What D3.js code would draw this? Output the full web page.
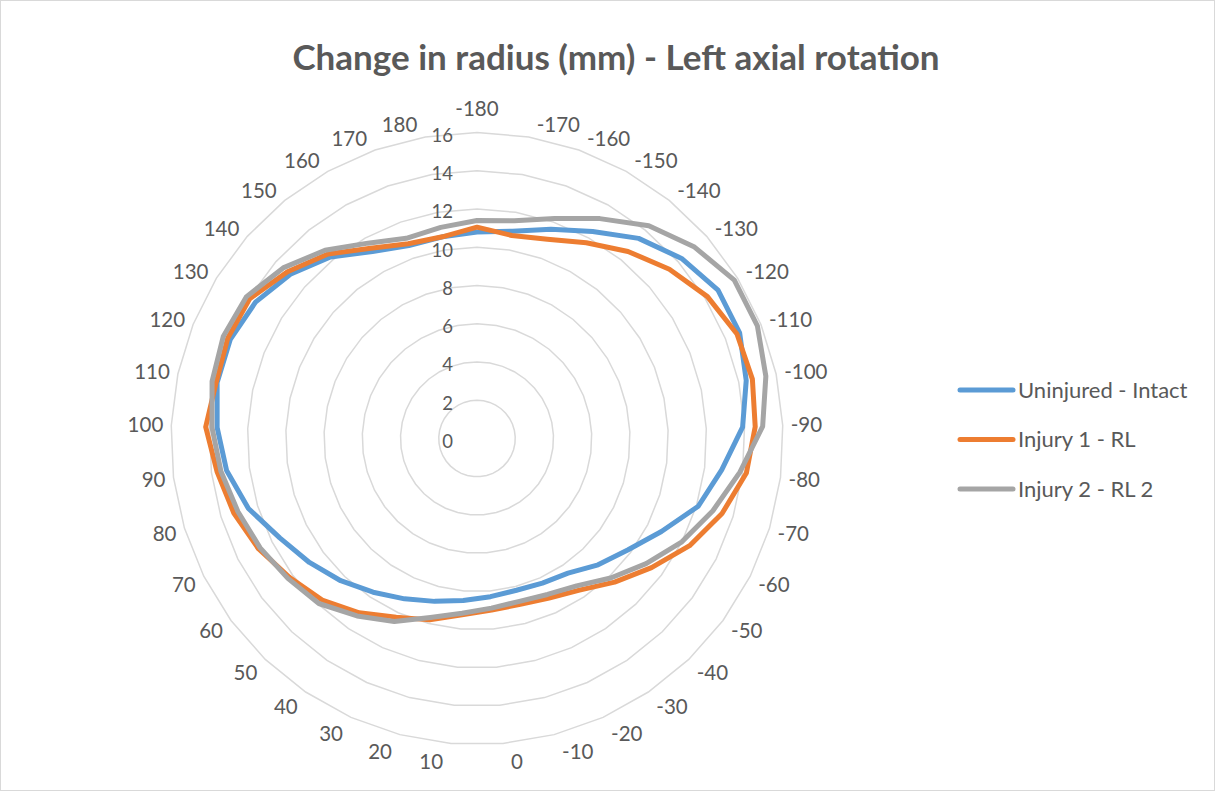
<!DOCTYPE html>
<html>
<head>
<meta charset="utf-8">
<script src="https://cdn.jsdelivr.net/npm/d3@7"></script>
<style>
  body { margin: 0; background: #fff; }
  #graf { width: 1217px; height: 793px; }
  text { font-family: Lato, 'Open Sans', sans-serif; fill: #595959; }
</style>
</head>
<body>
<div id="graf"></div>
<script>
// datos
categorias = [-180, -170, -160, -150, -140, -130, -120, -110, -100, -90, -80, -70, -60, -50, -40, -30, -20, -10,
  0, 10, 20, 30, 40, 50, 60, 70, 80, 90, 100, 110, 120, 130, 140, 150, 160, 170, 180]

intacto = [10.8, 11.0, 11.6, 12.4, 13.45, 14.25, 14.8, 14.8, 14.4, 13.9, 12.9, 12.1, 10.8, 9.8, 9.15, 8.5, 8.3, 8.2,
  8.3, 8.5, 8.8, 9.2, 9.7, 10.3, 10.9, 11.55, 12.5, 13.2, 13.6, 13.9, 13.9, 13.6, 13.0, 12.2, 11.2, 10.7, 10.7]

lesion1 = [11.05, 10.77, 11.05, 11.72, 12.57, 13.4, 14.15, 14.65, 14.73, 14.56, 14.2, 13.4, 12.45, 11.35, 10.4, 9.57, 9.15, 8.96,
  9.0, 9.25, 9.8, 10.25, 11.0, 11.7, 12.2, 12.8, 13.3, 13.7, 14.2, 13.95, 14.05, 13.95, 13.2, 12.4, 11.4, 10.8, 10.7]

lesion2 = [11.4, 11.55, 12.2, 13.17, 14.3, 15.15, 15.8, 15.8, 15.45, 14.95, 13.86, 12.9, 12.0, 11.0, 10.1, 9.3, 8.95, 8.8,
  8.9, 9.17, 9.67, 10.5, 11.2, 11.95, 12.3, 12.7, 13.07, 13.5, 13.87, 14.17, 14.3, 14.15, 13.5, 12.65, 11.7, 11.1, 11.2]

ticks = [0, 2, 4, 6, 8, 10, 12, 14, 16]

series = [
  { nombre: 'Uninjured - Intact', valores: intacto, color: '#5B9BD5' },
  { nombre: 'Injury 1 - RL', valores: lesion1, color: '#ED7D31' },
  { nombre: 'Injury 2 - RL 2', valores: lesion2, color: '#A5A5A5' }
]

// configuración
ancho_total = 1217
alto_total = 793
cx = 477
cy = 438.5
radio = 306

svg = d3.select('#graf').append('svg')
  .attr('width', ancho_total)
  .attr('height', alto_total)

svg.append('rect')
  .attr('x', 0.5).attr('y', 0.5)
  .attr('width', ancho_total - 3).attr('height', alto_total - 3)
  .attr('fill', '#fff')
  .attr('stroke', '#D9D9D9')

// título
titulo = svg.append('text')
  .attr('x', 616)
  .attr('y', 70)
  .attr('text-anchor', 'middle')
  .style('font-weight', 'bold')
  .style('font-size', '35px')
  .text('Change in radius (mm) - Left axial rotation')

g = svg.append('g').attr('transform', `translate(${cx}, ${cy})`)

r = d3.scaleLinear().domain([0, 16]).range([0, radio])
angulo = d3.scalePoint().domain(categorias).range([0, 2 * Math.PI * 36 / 37])

// rejilla
rejilla = d3.lineRadial()
  .angle(d => angulo(d))
  .curve(d3.curveLinearClosed)

g.selectAll('.anillo')
  .data(ticks.filter(t => t > 0))
  .enter().append('path')
  .attr('class', 'anillo')
  .attr('d', t => rejilla.radius(() => r(t))(categorias))
  .attr('fill', 'none')
  .attr('stroke', '#D9D9D9')
  .attr('stroke-width', 1.5)

// etiquetas del eje
g.selectAll('.tick')
  .data(ticks)
  .enter().append('text')
  .attr('class', 'tick')
  .attr('x', -24)
  .attr('y', t => -r(t) + 3)
  .attr('dy', '0.35em')
  .attr('text-anchor', 'end')
  .style('font-size', '18.5px')
  .text(t => t)

// etiquetas de categoría
function separacion(d) {
  c = Math.cos(angulo(d))
  s = Math.sin(angulo(d))
  if (c > 0) return Math.abs(s) < 0.05 ? 24 : 12
  return 18
}

g.selectAll('.cat')
  .data(categorias)
  .enter().append('text')
  .attr('class', 'cat')
  .attr('x', d => {
    s = Math.sin(angulo(d))
    return s * radio + (s > 0.05 ? 8 : (s < -0.05 ? -8 : 0))
  })
  .attr('y', d => -Math.cos(angulo(d)) * (radio + separacion(d)))
  .attr('dy', '0.35em')
  .attr('text-anchor', d => {
    s = Math.sin(angulo(d))
    return s > 0.05 ? 'start' : (s < -0.05 ? 'end' : 'middle')
  })
  .style('font-size', '20.5px')
  .text(d => d)

// series
linea = d3.lineRadial()
  .angle((d, i) => angulo(categorias[i]))
  .radius(d => r(d))
  .curve(d3.curveLinearClosed)

g.selectAll('.serie')
  .data(series)
  .enter().append('path')
  .attr('class', 'serie')
  .attr('d', s => linea(s.valores))
  .attr('fill', 'none')
  .attr('stroke', s => s.color)
  .attr('stroke-width', 5)
  .attr('stroke-linejoin', 'round')

// leyenda
leyenda = svg.append('g')
  .selectAll('g')
  .data(series)
  .enter().append('g')
  .attr('transform', (s, i) => `translate(960, ${390 + i * 49.5})`)

leyenda.append('line')
  .attr('x1', 0).attr('x2', 53)
  .attr('stroke', s => s.color)
  .attr('stroke-width', 5)
  .attr('stroke-linecap', 'round')

leyenda.append('text')
  .attr('x', 58)
  .attr('dy', '0.35em')
  .style('font-size', '22px')
  .text(s => s.nombre)
</script>
</body>
</html>
